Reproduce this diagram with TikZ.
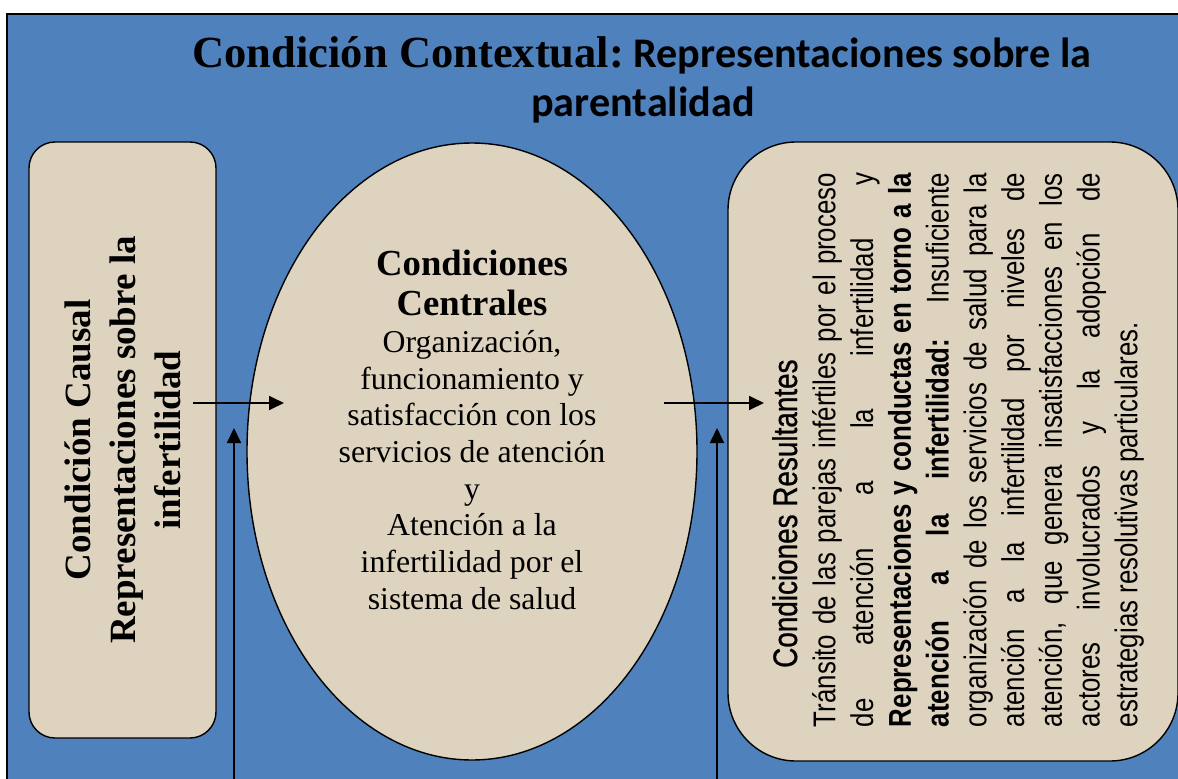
\documentclass[tikz,border=0pt]{standalone}
\usepackage{fontspec}
\setmainfont{Liberation Serif}
\newfontfamily\titlesans{Carlito}
\newfontfamily\narrowsans[FakeStretch=0.82]{Liberation Sans}
\newfontfamily\narrowhead[FakeStretch=0.82,FakeBold=0.8]{Liberation Sans}
\usetikzlibrary{shapes.geometric,arrows.meta}
\definecolor{frameblue}{RGB}{79,129,189}
\definecolor{canvas}{RGB}{221,211,190}
\tikzset{
  panel/.style={draw=black, line width=1.4pt, fill=canvas},
  arr/.style={line width=1.8pt, -{Triangle[length=15pt,width=14pt]}},
}
\begin{document}
\begin{tikzpicture}[x=1pt,y=-1pt]
\useasboundingbox (0,0) rectangle (1178,779);
\fill[white] (0,0) rectangle (1178,779);
\draw[line width=1.5pt, fill=frameblue] (7,14) rectangle (1200,800);

% title
\node[anchor=base, inner sep=0] (title1) at (642,67)
  {{\bfseries\fontsize{44.5}{50}\selectfont Condición Contextual:}{\titlesans\bfseries\fontsize{42.2}{50}\selectfont\ Representaciones sobre la}};
\node[anchor=base, inner sep=0, font=\titlesans\bfseries\fontsize{42.2}{50}\selectfont] (title2) at (643,116) {parentalidad};

% left box
\node[panel, rounded corners=26pt, rotate=90, minimum width=596pt, minimum height=187pt,
      inner sep=0, align=center, font=\bfseries\fontsize{37}{45}\selectfont] (causal) at (122.5,440)
  {Condición Causal\\Representaciones sobre la\\infertilidad};

% ellipse
\node[panel, ellipse, minimum width=450pt, minimum height=617pt, inner sep=0] (central) at (472,451.5) {};
\node[align=center, inner sep=0, font=\bfseries\fontsize{36.7}{40}\selectfont] (cctitle) at (472,283)
  {Condiciones\\Centrales};
\node[align=center, inner sep=0, font=\fontsize{31.8}{36.7}\selectfont] (ccbody) at (472,470)
  {Organización,\\funcionamiento y\\satisfacción con los\\servicios de atención\\y\\Atención a la\\infertilidad por el\\sistema de salud};

% right box
\node[panel, rounded corners=68pt, minimum width=450pt, minimum height=619pt, inner sep=0] (result) at (953,451.5) {};
\node[rotate=90, anchor=base west, inner sep=0, font=\narrowhead\fontsize{34}{40}\selectfont] (reshead) at (797,668)
  {Condiciones Resultantes};
\node[rotate=90, inner sep=0, align=left, font=\narrowsans\fontsize{31.5}{37.75}\selectfont] (resbody) at (978,450)
  {\makebox[554pt][s]{Tránsito de las parejas infértiles por el proceso}\\
   \makebox[554pt][s]{de atención a la infertilidad y}\\
   \makebox[554pt][s]{\bfseries Representaciones y conductas en torno a la}\\
   \makebox[554pt][s]{\bfseries atención a la infertilidad:\mdseries\ Insuficiente}\\
   \makebox[554pt][s]{organización de los servicios de salud para la}\\
   \makebox[554pt][s]{atención a la infertilidad por niveles de}\\
   \makebox[554pt][s]{atención, que genera insatisfacciones en los}\\
   \makebox[554pt][s]{actores involucrados y la adopción de}\\
   \makebox[554pt][l]{estrategias resolutivas particulares.}};

% arrows
\coordinate (c1) at (193,403);
\coordinate (c2) at (284,403);
\coordinate (c3) at (664,403);
\coordinate (c4) at (764,403);
\coordinate (b1) at (234,785);
\coordinate (b1t) at (234,428);
\coordinate (b2) at (717,785);
\coordinate (b2t) at (717,428);
\draw[arr] (c1) -- (c2);
\draw[arr] (c3) -- (c4);
\draw[arr] (b1) -- (b1t);
\draw[arr] (b2) -- (b2t);
\end{tikzpicture}
\end{document}
